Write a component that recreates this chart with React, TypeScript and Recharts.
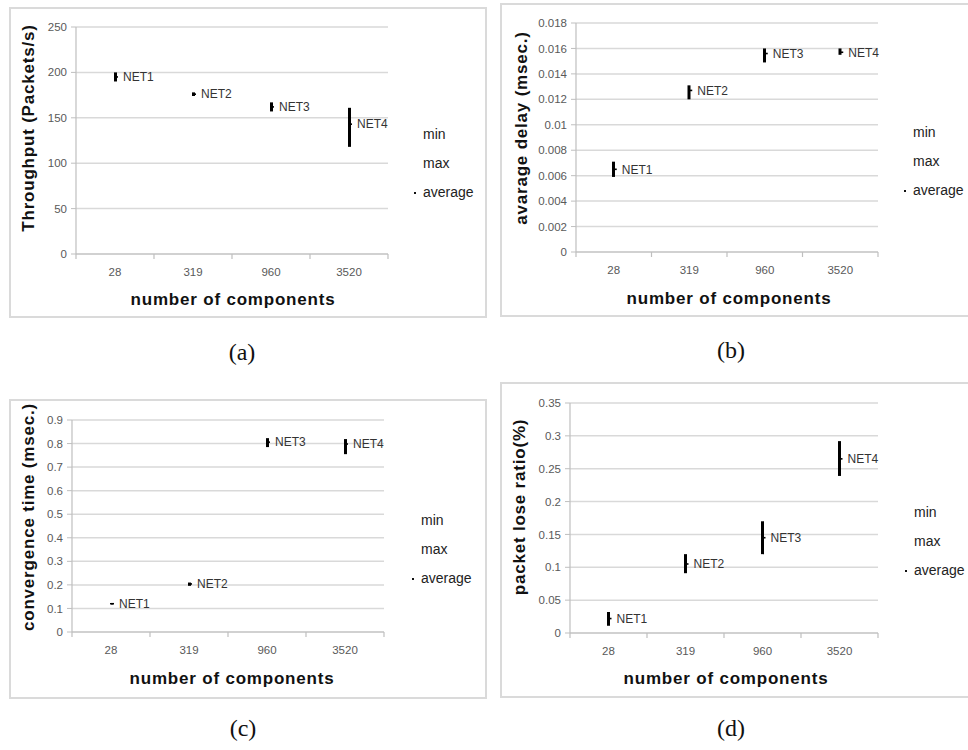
import React from 'react';
import { ComposedChart, Bar, Line, XAxis, YAxis, CartesianGrid, LabelList, Legend } from 'recharts';

// ---------- data ----------
const categories = ['28', '319', '960', '3520'];
const netLabels = ['NET1', 'NET2', 'NET3', 'NET4'];

const throughputMin = [190, 174, 157, 118];
const throughputMax = [200, 178, 167, 161];
const throughputAvg = [195, 176, 162, 143];
const throughputTicks = [0, 50, 100, 150, 200, 250];

const delayMin = [0.0059, 0.012, 0.0149, 0.0155];
const delayMax = [0.0071, 0.0131, 0.016, 0.016];
const delayAvg = [0.0065, 0.0127, 0.0156, 0.0157];
const delayTicks = [0, 0.002, 0.004, 0.006, 0.008, 0.01, 0.012, 0.014, 0.016, 0.018];

const convMin = [0.117, 0.196, 0.785, 0.755];
const convMax = [0.123, 0.21, 0.823, 0.819];
const convAvg = [0.12, 0.204, 0.806, 0.798];
const convTicks = [0, 0.1, 0.2, 0.3, 0.4, 0.5, 0.6, 0.7, 0.8, 0.9];

const lossMin = [0.011, 0.091, 0.12, 0.239];
const lossMax = [0.032, 0.12, 0.17, 0.292];
const lossAvg = [0.022, 0.105, 0.145, 0.265];
const lossTicks = [0, 0.05, 0.1, 0.15, 0.2, 0.25, 0.3, 0.35];

const legendNames = ['min', 'max', 'average'];
const xTitle = 'number of components';

// ---------- helpers ----------
const FONT = '"Liberation Sans", Arial, Helvetica, sans-serif';
const SERIF = '"Liberation Serif", "Times New Roman", serif';
const YAXIS_W = 50;
const XAXIS_H = 26;
const TICK_SIZE = 5;
const TICK_MARGIN = 8;

function buildRows(min: number[], max: number[], avg: number[]) {
  return categories.map((c, i) => ({
    cat: c,
    name: netLabels[i],
    min: min[i],
    max: max[i],
    avg: avg[i],
    range: [min[i], max[i]],
  }));
}

type Panel = {
  key: string;
  data: any[];
  ticks: number[];
  yTitle: string;
  box: { x: number; y: number; w: number; h: number };
  plot: { l: number; t: number; r: number; b: number };
  yTitlePos: { x: number; y: number };
  xTitlePos: { x: number; y: number };
  legendPos: { x: number; y: number };
  caption: string;
  captionPos: { x: number; y: number };
};

const panels: Panel[] = [
  {
    key: 'a',
    data: buildRows(throughputMin, throughputMax, throughputAvg),
    ticks: throughputTicks,
    yTitle: 'Throughput (Packets/s)',
    box: { x: 9, y: 7, w: 478, h: 311 },
    plot: { l: 76, t: 27, r: 388, b: 254 },
    yTitlePos: { x: 28, y: 128 },
    xTitlePos: { x: 233, y: 299 },
    legendPos: { x: 413, y: 134 },
    caption: '(a)',
    captionPos: { x: 242, y: 352 },
  },
  {
    key: 'b',
    data: buildRows(delayMin, delayMax, delayAvg),
    ticks: delayTicks,
    yTitle: 'avarage delay (msec.)',
    box: { x: 500, y: 3, w: 480, h: 314 },
    plot: { l: 576, t: 23, r: 878, b: 252 },
    yTitlePos: { x: 521, y: 128 },
    xTitlePos: { x: 729, y: 298 },
    legendPos: { x: 903, y: 132 },
    caption: '(b)',
    captionPos: { x: 731, y: 350 },
  },
  {
    key: 'c',
    data: buildRows(convMin, convMax, convAvg),
    ticks: convTicks,
    yTitle: 'convergence time (msec.)',
    box: { x: 9, y: 399, w: 478, h: 300 },
    plot: { l: 72, t: 420, r: 384, b: 632 },
    yTitlePos: { x: 28, y: 517 },
    xTitlePos: { x: 232, y: 678 },
    legendPos: { x: 411, y: 520 },
    caption: '(c)',
    captionPos: { x: 243, y: 728 },
  },
  {
    key: 'd',
    data: buildRows(lossMin, lossMax, lossAvg),
    ticks: lossTicks,
    yTitle: 'packet lose ratio(%)',
    box: { x: 500, y: 382, w: 480, h: 316 },
    plot: { l: 570, t: 403, r: 878, b: 633 },
    yTitlePos: { x: 519, y: 507 },
    xTitlePos: { x: 726, y: 678 },
    legendPos: { x: 904, y: 512 },
    caption: '(d)',
    captionPos: { x: 731, y: 728 },
  },
];

const makeXTick = (bandW: number) => (props: any) => {
  const { x, y, payload, index } = props;
  const axisY = y - TICK_SIZE - TICK_MARGIN;
  const left = x - bandW / 2;
  const right = x + bandW / 2;
  return (
    <g>
      <line x1={left} y1={axisY} x2={left} y2={axisY + 5} stroke="#bfbfbf" strokeWidth={1.2} />
      {index === categories.length - 1 && (
        <line x1={right} y1={axisY} x2={right} y2={axisY + 5} stroke="#bfbfbf" strokeWidth={1.2} />
      )}
      <text
        x={x}
        y={axisY + 18}
        textAnchor="middle"
        dominantBaseline="central"
        fill="#595959"
        fontSize={11.5}
        fontFamily={FONT}
      >
        {payload.value}
      </text>
    </g>
  );
};

const AvgDot = (props: any) => {
  const { cx, cy, index } = props;
  if (cx == null || cy == null) return <g key={`e-${index}`} />;
  return <line key={`avg-${index}`} x1={cx} y1={cy} x2={cx + 3} y2={cy} stroke="#000" strokeWidth={1.6} />;
};

const LegendContent = (props: any) => {
  const payload = (props.payload || []) as any[];
  const items = legendNames
    .map((n) => payload.find((p) => p.value === n && p.type !== 'none'))
    .filter(Boolean);
  return (
    <div style={{ fontFamily: FONT, fontSize: 14, color: '#222' }}>
      {items.map((p: any) => (
        <div key={String(p.value)} style={{ height: 29, lineHeight: '29px', display: 'flex', alignItems: 'center', whiteSpace: 'nowrap' }}>
          <span style={{ width: 10, height: 29, display: 'inline-block', position: 'relative' }}>
            {p.value === legendNames[2] && (
              <span style={{ position: 'absolute', left: 1, top: 14, width: 2, height: 2, background: '#111' }} />
            )}
          </span>
          <span>{p.value}</span>
        </div>
      ))}
    </div>
  );
};

function PanelChart({ p }: { p: Panel }) {
  const { box, plot } = p;
  const margin = {
    top: plot.t - box.y,
    right: box.x + box.w - plot.r,
    bottom: box.y + box.h - plot.b - XAXIS_H,
    left: plot.l - box.x - YAXIS_W,
  };
  const bandW = (plot.r - plot.l) / categories.length;
  const maxTick = p.ticks[p.ticks.length - 1];
  return (
    <>
      <div
        style={{
          position: 'absolute',
          left: box.x,
          top: box.y,
          width: box.w,
          height: box.h,
          border: '2px solid #dadada',
          boxSizing: 'border-box',
        }}
      />
      <div style={{ position: 'absolute', left: box.x, top: box.y }}>
        <ComposedChart width={box.w} height={box.h} data={p.data} margin={margin}>
          <CartesianGrid vertical={false} stroke="#d9d9d9" strokeWidth={1.5} />
          <XAxis
            dataKey="cat"
            type="category"
            interval={0}
            height={XAXIS_H}
            tickSize={TICK_SIZE}
            tickMargin={TICK_MARGIN}
            tickLine={false}
            axisLine={{ stroke: '#bfbfbf', strokeWidth: 1.2 }}
            tick={makeXTick(bandW)}
          />
          <YAxis
            type="number"
            width={YAXIS_W}
            domain={[0, maxTick]}
            ticks={p.ticks}
            interval={0}
            tickSize={5}
            tickMargin={4}
            tickLine={{ stroke: '#bfbfbf' }}
            axisLine={{ stroke: '#bfbfbf', strokeWidth: 1.2 }}
            tick={{ fill: '#595959', fontSize: 11.5, fontFamily: FONT }}
          />
          <Bar dataKey="range" barSize={3} fill="#000" legendType="none" isAnimationActive={false} />
          <Line dataKey="min" name={legendNames[0]} stroke="none" dot={false} activeDot={false} isAnimationActive={false} />
          <Line dataKey="max" name={legendNames[1]} stroke="none" dot={false} activeDot={false} isAnimationActive={false} />
          <Line
            dataKey="avg"
            name={legendNames[2]}
            stroke="none"
            dot={AvgDot}
            activeDot={false}
            isAnimationActive={false}
          >
            <LabelList dataKey="name" position="right" offset={8} fill="#333" fontSize={12} fontFamily={FONT} />
          </Line>
          <Legend
            layout="vertical"
            align="center"
            verticalAlign="middle"
            width={90}
            content={LegendContent}
            wrapperStyle={{
              left: p.legendPos.x - box.x,
              top: p.legendPos.y - box.y - 14.5,
              width: 90,
            }}
          />
        </ComposedChart>
      </div>
      <div
        style={{
          position: 'absolute',
          left: p.yTitlePos.x,
          top: p.yTitlePos.y,
          transform: 'translate(-50%, -50%) rotate(-90deg)',
          whiteSpace: 'nowrap',
          fontFamily: FONT,
          fontWeight: 'bold',
          fontSize: 17,
          letterSpacing: 0.8,
          color: '#111',
          lineHeight: 1,
        }}
      >
        {p.yTitle}
      </div>
      <div
        style={{
          position: 'absolute',
          left: p.xTitlePos.x,
          top: p.xTitlePos.y,
          transform: 'translate(-50%, -50%)',
          whiteSpace: 'nowrap',
          fontFamily: FONT,
          fontWeight: 'bold',
          fontSize: 17,
          letterSpacing: 0.8,
          color: '#111',
          lineHeight: 1,
        }}
      >
        {xTitle}
      </div>
      <div
        style={{
          position: 'absolute',
          left: p.captionPos.x,
          top: p.captionPos.y,
          transform: 'translate(-50%, -50%)',
          whiteSpace: 'nowrap',
          fontFamily: SERIF,
          fontSize: 24,
          color: '#111',
          lineHeight: 1,
        }}
      >
        {p.caption}
      </div>
    </>
  );
}

export default function App() {
  return (
    <div
      style={{
        position: 'absolute',
        left: 0,
        top: 0,
        width: 968,
        height: 750,
        background: '#fff',
        overflow: 'hidden',
      }}
    >
      {panels.map((p) => (
        <PanelChart key={p.key} p={p} />
      ))}
    </div>
  );
}
